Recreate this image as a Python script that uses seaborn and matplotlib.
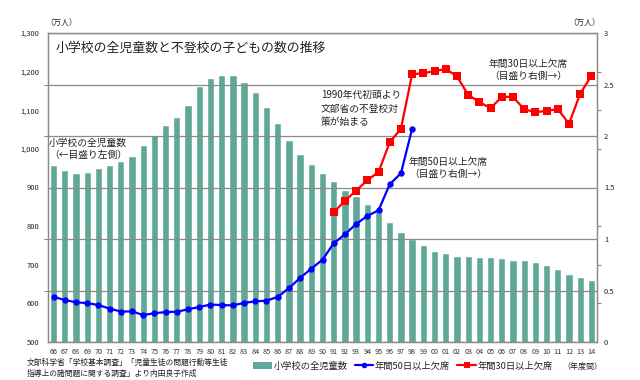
import numpy as np
import pandas as pd
import matplotlib
matplotlib.use("Agg")
import matplotlib.pyplot as plt
import seaborn as sns
from matplotlib.ticker import FixedLocator, NullFormatter
from matplotlib.patches import Patch
from matplotlib.lines import Line2D

# ---------------- data ----------------
years = list(range(1966, 2015))
year_labels = ["66", "67", "68", "69", "70", "71", "72", "73", "74", "75", "76", "77",
               "78", "79", "80", "81", "82", "83", "84", "85", "86", "87", "88", "89",
               "90", "91", "92", "93", "94", "95", "96", "97", "98", "99", "00", "01",
               "02", "03", "04", "05", "06", "07", "08", "09", "10", "11", "12", "13", "14"]

# elementary school pupils (万人), left axis
students = [958.4, 945.2, 938.3, 940.3, 949.3, 959.5, 969.6, 981.7, 1008.9, 1036.5,
            1061.0, 1082.0, 1114.7, 1162.9, 1182.7, 1192.5, 1190.2, 1173.9, 1146.4, 1109.5,
            1066.5, 1022.6, 987.3, 960.7, 937.3, 915.7, 894.7, 876.9, 858.3, 837.0,
            810.6, 785.5, 766.4, 750.0, 736.6, 729.7, 723.9, 722.7, 720.1, 719.7,
            718.7, 713.3, 712.2, 706.4, 699.3, 688.7, 676.5, 667.7, 660.0]

# absent 50+ days (万人), 1966-1998, right axis
years_50 = list(range(1966, 1999))
absent_50 = [0.438, 0.408, 0.385, 0.378, 0.359, 0.324, 0.296, 0.297, 0.262, 0.279,
             0.291, 0.294, 0.317, 0.340, 0.363, 0.359, 0.355, 0.380, 0.394, 0.402,
             0.437, 0.522, 0.622, 0.712, 0.799, 0.958, 1.046, 1.145, 1.224, 1.278,
             1.531, 1.638, 2.070]

# absent 30+ days (万人), 1991-2014, right axis
years_30 = list(range(1991, 2015))
absent_30 = [1.26, 1.37, 1.47, 1.57, 1.65, 1.94, 2.07, 2.60, 2.61, 2.63, 2.65, 2.58,
             2.40, 2.33, 2.27, 2.38, 2.38, 2.26, 2.23, 2.245, 2.26, 2.12, 2.41, 2.585]

left_ticks = [500, 600, 700, 800, 900, 1000, 1100, 1200, 1300]
left_tick_labels = ["500", "600", "700", "800", "900", "1,000", "1,100", "1,200", "1,300"]
right_ticks = [0, 0.5, 1, 1.5, 2, 2.5, 3]
right_tick_labels = ["0", "0.5", "1", "1.5", "2", "2.5", "3"]

# ---------------- style ----------------
sns.set_theme(style="white")
plt.rcParams["font.family"] = ["Noto Sans CJK JP", "DejaVu Sans"]

TEAL = "#5fa898"
GRID = "#8a8a8a"
TXT = "#222222"

W, H = 640, 380
fig = plt.figure(figsize=(6.4, 3.8), dpi=100)
ax = fig.add_axes([48 / W, 1 - 342 / H, (597 - 48) / W, (342 - 33) / H])

df = pd.DataFrame({"year": years, "students": students})
sns.barplot(data=df, x="year", y="students", ax=ax, color=TEAL, native_scale=True,
            width=0.65, saturation=1)

ax.set_xlim(1965.5, 2014.5)
ax.set_ylim(500, 1300)
ax.set_xlabel("")
ax.set_ylabel("")
ax.set_xticks(years)
ax.set_xticklabels(year_labels, fontsize=5.2, color="#333333")
ax.set_yticks(left_ticks)
ax.set_yticklabels(left_tick_labels, fontsize=5.4, color=TXT)
ax.tick_params(axis="y", which="major", length=0, pad=6)
ax.tick_params(axis="x", which="major", length=0, pad=4)
ax.grid(False)

# small tick marks on the left spine at the gridline heights
grid_pos = [500 + r * 800 / 3 for r in [0.5, 1, 1.5, 2, 2.5]]
ax.yaxis.set_minor_locator(FixedLocator(grid_pos))
ax.yaxis.set_minor_formatter(NullFormatter())
ax.tick_params(axis="y", which="minor", length=3, color=GRID, width=0.8, left=True)

for s in ax.spines.values():
    s.set_color(GRID)
    s.set_linewidth(0.9)

# right axis with absence lines
ax2 = ax.twinx()
d50 = pd.DataFrame({"year": years_50, "v": absent_50})
d30 = pd.DataFrame({"year": years_30, "v": absent_30})
sns.lineplot(data=d50, x="year", y="v", ax=ax2, color="#0000ff", linewidth=1.6,
             marker="o", markersize=4.6, markeredgewidth=0, sort=False, errorbar=None)
sns.lineplot(data=d30, x="year", y="v", ax=ax2, color="#ff0000", linewidth=1.6,
             marker="s", markersize=5.2, markeredgewidth=0, sort=False, errorbar=None)
ax2.set_ylim(0, 3)
ax2.set_xlim(1965.5, 2014.5)
ax2.set_xlabel("")
ax2.set_ylabel("")
ax2.set_yticks(right_ticks)
ax2.set_yticklabels(right_tick_labels, fontsize=5.4, color=TXT)
ax2.tick_params(axis="y", which="major", length=0, pad=5)
ax2.yaxis.set_minor_locator(FixedLocator([(v - 500) * 3 / 800 for v in left_ticks[1:-1]]))
ax2.yaxis.set_minor_formatter(NullFormatter())
ax2.tick_params(axis="y", which="minor", length=3, color=GRID, width=0.8, right=True)
ax2.grid(True, axis="y", which="major", color=GRID, linewidth=0.9)
for s in ax2.spines.values():
    s.set_color(GRID)
    s.set_linewidth(0.9)

def px(x, y):
    return x / W, 1 - y / H

# title
fig.text(*px(56, 48), "小学校の全児童数と不登校の子どもの数の推移", fontsize=9.3,
         color=TXT, ha="left", va="center")

# unit labels
fig.text(*px(45, 22), "（万人）", fontsize=5.8, color=TXT, ha="left", va="center")
fig.text(*px(600, 22), "（万人）", fontsize=5.8, color=TXT, ha="right", va="center")
fig.text(*px(602, 366), "（年度間）", fontsize=5.8, color=TXT, ha="right", va="center")

# annotations
fig.text(*px(49, 138), "小学校の全児童数\n（←目盛り左側）", fontsize=7, color=TXT,
         ha="left", va="top", linespacing=1.25)
fig.text(*px(321, 90), "1990年代初頭より\n文部省の不登校対\n策が始まる", fontsize=7,
         color=TXT, ha="left", va="top", linespacing=1.45)
fig.text(*px(409, 157), "年間50日以上欠席\n（目盛り右側→）", fontsize=7, color=TXT,
         ha="left", va="top", linespacing=1.25)
fig.text(*px(489, 59), "年間30日以上欠席\n（目盛り右側→）", fontsize=7, color=TXT,
         ha="left", va="top", linespacing=1.25)

# source note
fig.text(*px(27, 363), "文部科学省「学校基本調査」「児童生徒の問題行動等生徒", fontsize=5.6,
         color=TXT, ha="left", va="center")
fig.text(*px(27, 374), "指導上の諸問題に関する調査」より内田良子作成", fontsize=5.6,
         color=TXT, ha="left", va="center")

# legend
handles = [Patch(facecolor=TEAL, edgecolor="none"),
           Line2D([0], [0], color="#0000ff", linewidth=1.6, marker="o", markersize=4,
                  markeredgewidth=0),
           Line2D([0], [0], color="#ff0000", linewidth=1.6, marker="s", markersize=5,
                  markeredgewidth=0)]
labels = ["小学校の全児童数", "年間50日以上欠席", "年間30日以上欠席"]
fig.legend(handles, labels, loc="center", bbox_to_anchor=px(403, 366), ncol=3,
           frameon=False, fontsize=6.7, handlelength=2.0, handleheight=0.8,
           handletextpad=0.15, columnspacing=0.8, labelcolor=TXT)

fig.savefig("out.png", dpi=100)
